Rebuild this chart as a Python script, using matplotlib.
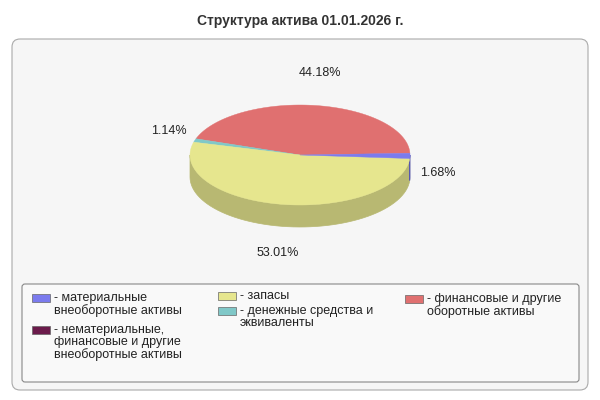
import numpy as np
import matplotlib.pyplot as plt
from matplotlib.patches import Polygon, FancyBboxPatch, Rectangle

plt.rcParams['font.family'] = ['Liberation Sans', 'DejaVu Sans']

title = 'Структура актива 01.01.2026 г.'
labels = ['- финансовые и другие\nоборотные активы', '- денежные средства и\nэквиваленты',
          '- запасы', '- материальные\nвнеоборотные активы',
          '- нематериальные,\nфинансовые и другие\nвнеоборотные активы']
values = [44.18, 1.14, 53.01, 1.68, 0.0]
top_colors = ['#e07070', '#80c8c8', '#e6e68e', '#7b7bee', '#6b1b4b']
side_colors = ['#a85050', '#5a9a9a', '#b8b872', '#5555b0', '#4b0b33']

fig = plt.figure(figsize=(6, 4), dpi=100)
ax = fig.add_axes([0, 0, 1, 1])
ax.set_xlim(0, 600); ax.set_ylim(400, 0); ax.axis('off')

ax.text(300, 21, title, ha='center', va='center', fontsize=10, fontweight='bold', color='#333333')
ax.add_patch(FancyBboxPatch((12, 39), 576, 351, boxstyle='round,pad=0,rounding_size=8',
                            fc='#f6f6f6', ec='#aaaaaa', lw=0.8))
ax.add_patch(FancyBboxPatch((22, 284), 557, 98, boxstyle='round,pad=0,rounding_size=3',
                            fc='#f9f9f9', ec='#888888', lw=0.8))

cx, cy, rx, ry, dep = 300, 155, 110, 50, 22
start = 2.0
angles = start + np.concatenate([[0], np.cumsum(values)]) * 3.6

def pt(t, d=0):
    r = np.radians(t)
    return cx + rx * np.cos(r), cy - ry * np.sin(r) + d

# sides (lower half: 180..360 deg)
for i in range(len(values)):
    a1, a2 = angles[i], angles[i + 1]
    for off in (0, 360, -360):
        lo, hi = max(a1 + off, 180), min(a2 + off, 360)
        if hi > lo:
            ts = np.linspace(lo, hi, 60)
            top = [pt(t) for t in ts]
            bot = [pt(t, dep) for t in ts[::-1]]
            ax.add_patch(Polygon(top + bot, fc=side_colors[i], ec=side_colors[i], lw=0.5))
# top faces
for i in range(len(values)):
    a1, a2 = angles[i], angles[i + 1]
    if a2 <= a1:
        continue
    ts = np.linspace(a1, a2, 100)
    ax.add_patch(Polygon([(cx, cy)] + [pt(t) for t in ts], fc=top_colors[i],
                         ec=top_colors[i], lw=0.3))
    mid = (a1 + a2) / 2
    r = np.radians(mid)
    lx = cx + rx * 1.25 * np.cos(r)
    ly = cy - ry * 1.65 * np.sin(r) + (dep - 5 if np.sin(r) < 0 else 0)
    ax.text(lx, ly, f'{values[i]:.2f}%', ha='center', va='center', fontsize=9, color='#222222')

# legend
pos = [(405, 299), (218, 311), (218, 296), (32, 298), (32, 330)]
for i, (x, y) in enumerate(pos):
    ax.add_patch(Rectangle((x, y - 4), 18, 8, fc=top_colors[i], ec='#666666', lw=0.5))
    ax.text(x + 22, y - 6, labels[i], ha='left', va='top', fontsize=9,
            color='#222222', linespacing=1.0)

fig.savefig('out.png', dpi=100)
